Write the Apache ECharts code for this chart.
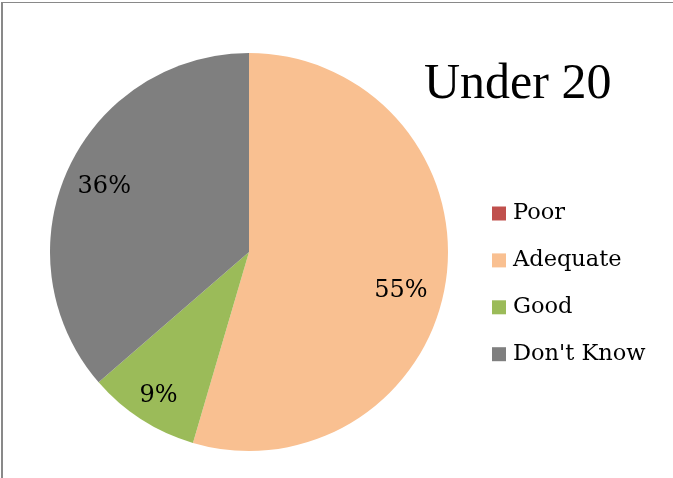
<!DOCTYPE html>
<html>
<head>
<meta charset="utf-8">
<script src="https://cdn.jsdelivr.net/npm/echarts@6/dist/echarts.min.js"></script>
<style>
html,body{margin:0;padding:0;background:#fff;}
#chart{width:673px;height:478px;}
</style>
</head>
<body>
<div id="chart"></div>
<script>
const titleText = 'Under 20';
const categories = ['Poor', 'Adequate', 'Good', "Don't Know"];
const counts = [0, 6, 1, 4];
const colors = ['#C0504D', '#F9C091', '#9BBB59', '#7F7F7F'];
// small label nudges (style only), mimicking Excel's best-fit placement
const labelNudge = { 'Adequate': [-10, 15], 'Good': [-2, 6], "Don't Know": [4, 3] };

const FONT = 'DejaVu Serif';
const TITLE_FONT = 'Liberation Serif';
const data = categories.map((c, i) => ({ name: c, value: counts[i], itemStyle: { color: colors[i] } }));

const chart = echarts.init(document.getElementById('chart'));
chart.setOption({
  animation: false,
  backgroundColor: '#fff',
  graphic: [
    { type: 'line', shape: { x1: 1, y1: 2.5, x2: 673, y2: 2.5 }, style: { stroke: '#898989', lineWidth: 1 } },
    { type: 'line', shape: { x1: 2, y1: 2, x2: 2, y2: 478 }, style: { stroke: '#898989', lineWidth: 2 } }
  ],
  title: {
    text: titleText,
    left: 424,
    top: 60,
    padding: 0,
    textStyle: { fontFamily: TITLE_FONT, fontSize: 50, lineHeight: 50, fontWeight: 'normal', color: '#000' }
  },
  legend: {
    orient: 'vertical',
    left: 492,
    top: 202,
    padding: 0,
    itemWidth: 14,
    itemHeight: 14,
    itemGap: 23.9,
    icon: 'rect',
    data: categories,
    textStyle: { fontFamily: FONT, fontSize: 22.5, lineHeight: 22, color: '#000', padding: [0, 0, 0, 2] }
  },
  series: [
    {
      type: 'pie',
      center: [249, 252],
      radius: [0, 199],
      startAngle: 90,
      clockwise: true,
      silent: true,
      label: { show: false },
      labelLine: { show: false },
      itemStyle: { borderWidth: 0 },
      data: data
    },
    {
      type: 'pie',
      center: [249, 252],
      radius: [122, 199],
      startAngle: 90,
      clockwise: true,
      silent: true,
      legendHoverLink: false,
      itemStyle: { color: 'rgba(0,0,0,0)', borderWidth: 0 },
      label: {
        show: true,
        position: 'inside',
        fontFamily: FONT,
        fontSize: 24,
        color: '#000',
        formatter: p => p.value === 0 ? '' : Math.round(p.percent) + '%'
      },
      labelLine: { show: false },
      data: categories.map((c, i) => ({
        name: c,
        value: counts[i],
        label: { offset: labelNudge[c] || [0, 0] }
      }))
    }
  ]
});
</script>
</body>
</html>
